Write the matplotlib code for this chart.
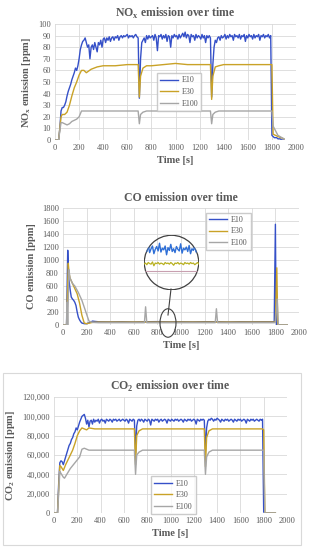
import numpy as np
import matplotlib
matplotlib.use("Agg")
import matplotlib.pyplot as plt
from matplotlib.patches import Circle, Rectangle
from matplotlib.ticker import FuncFormatter

plt.rcParams['font.family'] = ['Liberation Serif', 'DejaVu Serif']
plt.rcParams['mathtext.fontset'] = 'custom'
plt.rcParams['mathtext.rm'] = 'Liberation Serif'
plt.rcParams['mathtext.bf'] = 'Liberation Serif:bold'

# ---- data ----
labels = ["E10", "E30", "E100"]

# E10 sampled every 10 s, 0..1900 s
t10 = np.arange(0, 1901, 10)

nox_e10 = [
    0, 0, 0, 0, 10, 25, 28, 28, 30, 33,
    38, 42, 45, 48, 52, 55, 58, 62, 60, 64,
    70, 78, 82, 85, 86, 88, 84, 80, 82, 70,
    80, 82, 78, 84, 80, 76, 84, 82, 86, 80,
    87, 88, 84, 88, 86, 89, 85, 88, 89, 86,
    89, 88, 90, 86, 89, 90, 88, 90, 89, 90,
    91, 88, 90, 89, 90, 88, 90, 91, 89, 88,
    36, 70, 84, 86, 88, 84, 90, 87, 90, 88,
    89, 90, 86, 91, 88, 77, 90, 89, 91, 87,
    90, 88, 91, 85, 90, 89, 80, 90, 88, 91,
    89, 90, 87, 91, 88, 90, 92, 89, 93, 88,
    91, 90, 84, 91, 89, 90, 86, 91, 88, 90,
    89, 87, 91, 88, 90, 84, 90, 88, 90, 88,
    37, 65, 80, 86, 84, 88, 89, 86, 90, 88,
    89, 91, 87, 90, 88, 91, 89, 90, 86, 91,
    89, 90, 88, 91, 87, 90, 89, 91, 85, 90,
    88, 91, 89, 90, 87, 91, 88, 90, 89, 91,
    86, 90, 89, 91, 88, 90, 89, 91, 88, 90,
    4, 3, 2, 2, 2, 1, 1, 1, 0, 0,
    0]

co2_e10 = [  # x1000 ppm
    0, 0, 0, 0, 30, 52, 54, 53, 50, 54,
    58, 62, 66, 70, 72, 76, 78, 82, 84, 88,
    86, 90, 94, 97, 100, 101, 102, 98, 92, 96,
    89, 95, 96, 92, 97, 94, 96, 95, 97, 93,
    96, 97, 95, 96, 93, 97, 96, 95, 97, 96,
    94, 97, 96, 97, 95, 96, 97, 95, 96, 97,
    96, 95, 97, 96, 93, 97, 96, 95, 97, 96,
    62, 90, 96, 97, 95, 97, 96, 94, 97, 96,
    95, 97, 96, 91, 97, 96, 95, 97, 96, 97,
    94, 96, 97, 95, 96, 97, 96, 93, 97, 96,
    95, 97, 96, 95, 97, 96, 97, 95, 96, 97,
    96, 94, 97, 96, 95, 97, 96, 97, 95, 96,
    97, 96, 92, 97, 96, 95, 97, 96, 97, 96,
    64, 88, 95, 97, 96, 98, 97, 95, 97, 96,
    98, 97, 96, 94, 97, 96, 95, 97, 96, 97,
    95, 96, 97, 96, 94, 97, 96, 95, 97, 96,
    97, 95, 96, 97, 96, 93, 97, 96, 95, 97,
    96, 97, 95, 96, 97, 96, 95, 97, 96, 97,
    1, 0, 0, 0, 0, 0, 0, 0, 0, 0,
    0]

# NOx E30 / E100
t_nox = [0, 30, 40, 50, 60, 80, 100, 120, 140, 160, 180, 200, 220, 240, 260,
         300, 350, 400, 500, 600, 690, 700, 710, 730, 760, 800, 900, 1000,
         1100, 1200, 1290, 1300, 1310, 1330, 1360, 1400, 1500, 1600, 1700,
         1790, 1800, 1810, 1850, 1900]
nox_e30 = [0, 0, 10, 20, 22, 22, 24, 30, 38, 45, 50, 56, 60, 60, 58,
           61, 63, 64, 64, 65, 65, 37, 55, 62, 64, 64, 65, 66,
           65, 65, 65, 35, 55, 63, 64, 65, 65, 65, 65,
           65, 65, 5, 3, 1]
nox_e100 = [0, 0, 8, 15, 15, 14, 13, 14, 16, 17, 18, 20, 25, 25, 25,
            25, 25, 25, 25, 25, 25, 14, 22, 24, 25, 25, 25, 25,
            25, 25, 25, 14, 22, 24, 25, 25, 25, 25, 25,
            25, 25, 12, 4, 1]

# CO
t_co_e10 = [0, 30, 40, 45, 50, 60, 70, 80, 90, 100, 110, 120, 130, 140, 150,
            160, 180, 200, 230, 250, 270, 300, 400, 500, 600, 700, 800, 900,
            1000, 1100, 1200, 1300, 1400, 1500, 1600, 1700, 1790, 1800, 1805,
            1810, 1900]
co_e10 = [0, 0, 1150, 900, 700, 550, 430, 400, 380, 350, 300, 200, 120, 80, 50,
          30, 20, 20, 40, 60, 55, 50, 48, 50, 47, 50, 52, 49,
          50, 48, 51, 50, 47, 50, 49, 50, 50, 1550, 300,
          0, 0]
t_co_e30 = [0, 30, 45, 50, 60, 80, 100, 120, 140, 160, 180, 200, 250, 300,
            700, 1300, 1790, 1800, 1812, 1820, 1900]
co_e30 = [0, 0, 950, 800, 720, 640, 560, 480, 340, 150, 30, 20, 40, 45,
          45, 45, 45, 50, 880, 0, 0]
t_co_e100 = [0, 30, 35, 40, 50, 60, 80, 100, 130, 160, 190, 220, 250, 300, 690,
             700, 710, 1290, 1300, 1310, 1790, 1800, 1815, 1825, 1900]
co_e100 = [0, 0, 350, 0, 850, 720, 640, 600, 500, 380, 220, 60, 40, 35, 35,
           280, 35, 35, 250, 35, 35, 40, 400, 0, 0]

# magnified detail inside the circle (arbitrary units)
zoom_e10 = [72, 78, 70, 82, 68, 75, 80, 66, 74, 79, 71, 85, 69, 76, 73, 80, 64, 77, 72, 83,
            70, 75, 68, 79, 74, 71, 84, 67, 76, 73, 78, 70, 81, 66, 75, 72, 79, 69, 77, 74]
zoom_e30 = [47, 49, 46, 50, 48, 47, 51, 44, 49, 48, 50, 47, 49, 48, 46, 50, 48, 49, 47, 50,
            48, 45, 49, 48, 50, 47, 49, 48, 46, 50, 48, 49, 47, 50, 48, 49, 46, 48, 50, 47]
zoom_e100 = [35, 35]

# CO2 E30 / E100 (x1000 ppm)
t_co2 = [0, 30, 40, 50, 60, 70, 80, 90, 100, 120, 140, 160, 180, 200, 220,
         240, 260, 280, 300, 350, 400, 500, 600, 690, 700, 710, 730, 760, 800,
         900, 1000, 1100, 1200, 1290, 1300, 1310, 1330, 1360, 1400, 1500,
         1600, 1700, 1790, 1800, 1810, 1900]
co2_e30 = [0, 0, 25, 49, 48, 46, 44, 47, 50, 55, 60, 65, 72, 80, 85,
           88, 87, 86, 88, 87, 87, 87, 87, 87, 50, 80, 85, 87, 87,
           87, 87, 87, 87, 87, 48, 78, 85, 87, 87, 87,
           87, 87, 87, 86, 0, 0]
co2_e100 = [0, 0, 20, 43, 41, 39, 37, 36, 38, 42, 46, 49, 52, 55, 58,
            66, 67, 66, 65, 65, 65, 65, 65, 65, 40, 60, 63, 65, 65,
            65, 65, 65, 65, 65, 40, 58, 63, 65, 65, 65,
            65, 65, 65, 65, 0, 0]

colors = ["#3550c8", "#c9a227", "#a6a6a6"]
gray_txt = "#595959"
W, H = 309, 550


def px_axes(fig, x0, x1, ytop, ybot):
    return fig.add_axes([x0 / W, 1 - ybot / H, (x1 - x0) / W, (ybot - ytop) / H])


def style(ax, ymax, ystep):
    ax.set_xlim(0, 2000)
    ax.set_ylim(0, ymax)
    ax.set_xticks(np.arange(0, 2001, 200))
    ax.set_yticks(np.arange(0, ymax + 1, ystep))
    ax.grid(True, color="#d9d9d9", lw=0.6)
    ax.set_axisbelow(True)
    for s in ax.spines.values():
        s.set_visible(False)
    ax.tick_params(length=0, labelsize=6, labelcolor=gray_txt, pad=3)


def add_legend(ax, anchor):
    leg = ax.legend(loc="upper left", bbox_to_anchor=anchor, fontsize=5.8,
                    handlelength=2.2, handletextpad=0.5, frameon=True, fancybox=False,
                    edgecolor="#bfbfbf", borderpad=0.4, labelspacing=0.45)
    for txt in leg.get_texts():
        txt.set_color(gray_txt)


fig = plt.figure(figsize=(W / 100, H / 100), dpi=100)

# ---------- NOx ----------
ax1 = px_axes(fig, 55, 296, 24, 140)
ax1.plot(t10, nox_e10, color=colors[0], lw=1.0, label=labels[0])
ax1.plot(t_nox, nox_e30, color=colors[1], lw=1.0, label=labels[1])
ax1.plot(t_nox, nox_e100, color=colors[2], lw=1.0, label=labels[2])
style(ax1, 100, 10)
ax1.set_title(r"NO$_\mathbf{x}$ emission over time", fontsize=8.5, fontweight="bold",
              color=gray_txt, pad=5)
ax1.set_ylabel(r"NO$_\mathbf{x}$ emission [ppm]", fontsize=7.5, fontweight="bold",
               color=gray_txt, labelpad=4)
ax1.set_xlabel("Time [s]", fontsize=7.5, fontweight="bold", color=gray_txt, labelpad=3)
add_legend(ax1, (0.405, 0.61))

# ---------- CO ----------
ax2 = px_axes(fig, 63, 299, 208, 325)
ax2.plot(t_co_e10, co_e10, color=colors[0], lw=1.0, label=labels[0])
ax2.plot(t_co_e30, co_e30, color=colors[1], lw=1.0, label=labels[1])
ax2.plot(t_co_e100, co_e100, color=colors[2], lw=1.0, label=labels[2])
style(ax2, 1800, 200)
ax2.set_title("CO emission over time", fontsize=8.5, fontweight="bold",
              color=gray_txt, pad=5)
ax2.set_ylabel("CO emission [ppm]", fontsize=7.5, fontweight="bold",
               color=gray_txt, labelpad=4)
ax2.set_xlabel("Time [s]", fontsize=7.5, fontweight="bold", color=gray_txt, labelpad=3)
add_legend(ax2, (0.59, 0.995))

# small circle + connector + magnified circle
small = Circle((168 / W, 1 - 323 / H), 8 / W, transform=fig.transFigure,
               fill=False, edgecolor="#404040", lw=0.8)
fig.patches.append(small)
fig.add_artist(plt.Line2D([168 / W, 171 / W], [1 - 315 / H, 1 - 289 / H],
                          transform=fig.transFigure, color="#404040", lw=0.8))
axz = px_axes(fig, 144, 199, 235, 290)
xz = np.arange(len(zoom_e10))
clip = Circle((0.5, 0.5), 0.5, transform=axz.transAxes)
lz1, = axz.plot(xz, zoom_e10, color="#2f6fd6", lw=1.0)
lz2, = axz.plot(xz, zoom_e30, color="#b8b020", lw=0.9)
lz3, = axz.plot([0, len(zoom_e10) - 1], zoom_e100, color="#c8a0b0", lw=0.8)
for ln in (lz1, lz2, lz3):
    ln.set_clip_path(clip)
axz.set_xlim(0, len(zoom_e10) - 1)
axz.set_ylim(0, 100)
axz.axis("off")
axz.add_patch(Circle((0.5, 0.5), 0.495, transform=axz.transAxes, fill=False,
                     edgecolor="#404040", lw=0.9))

# ---------- CO2 ----------
ax3 = px_axes(fig, 54, 287, 397, 513)
ax3.plot(t10, np.array(co2_e10) * 1000, color=colors[0], lw=1.0, label=labels[0])
ax3.plot(t_co2, np.array(co2_e30) * 1000, color=colors[1], lw=1.0, label=labels[1])
ax3.plot(t_co2, np.array(co2_e100) * 1000, color=colors[2], lw=1.0, label=labels[2])
style(ax3, 120000, 20000)
ax3.yaxis.set_major_formatter(FuncFormatter(lambda v, p: f"{int(v):,}"))
ax3.set_title(r"CO$_\mathbf{2}$ emission over time", fontsize=8.5, fontweight="bold",
              color=gray_txt, pad=5)
ax3.set_ylabel(r"CO$_\mathbf{2}$ emission [ppm]", fontsize=7.5, fontweight="bold",
               color=gray_txt, labelpad=4)
ax3.set_xlabel("Time [s]", fontsize=7.5, fontweight="bold", color=gray_txt, labelpad=3)
add_legend(ax3, (0.4, 0.35))

fig.patches.append(Rectangle((3 / W, 1 - 545 / H), 298 / W, 172 / H,
                             transform=fig.transFigure, fill=False,
                             edgecolor="#d9d9d9", lw=0.8))

fig.savefig("out.png", dpi=100)
